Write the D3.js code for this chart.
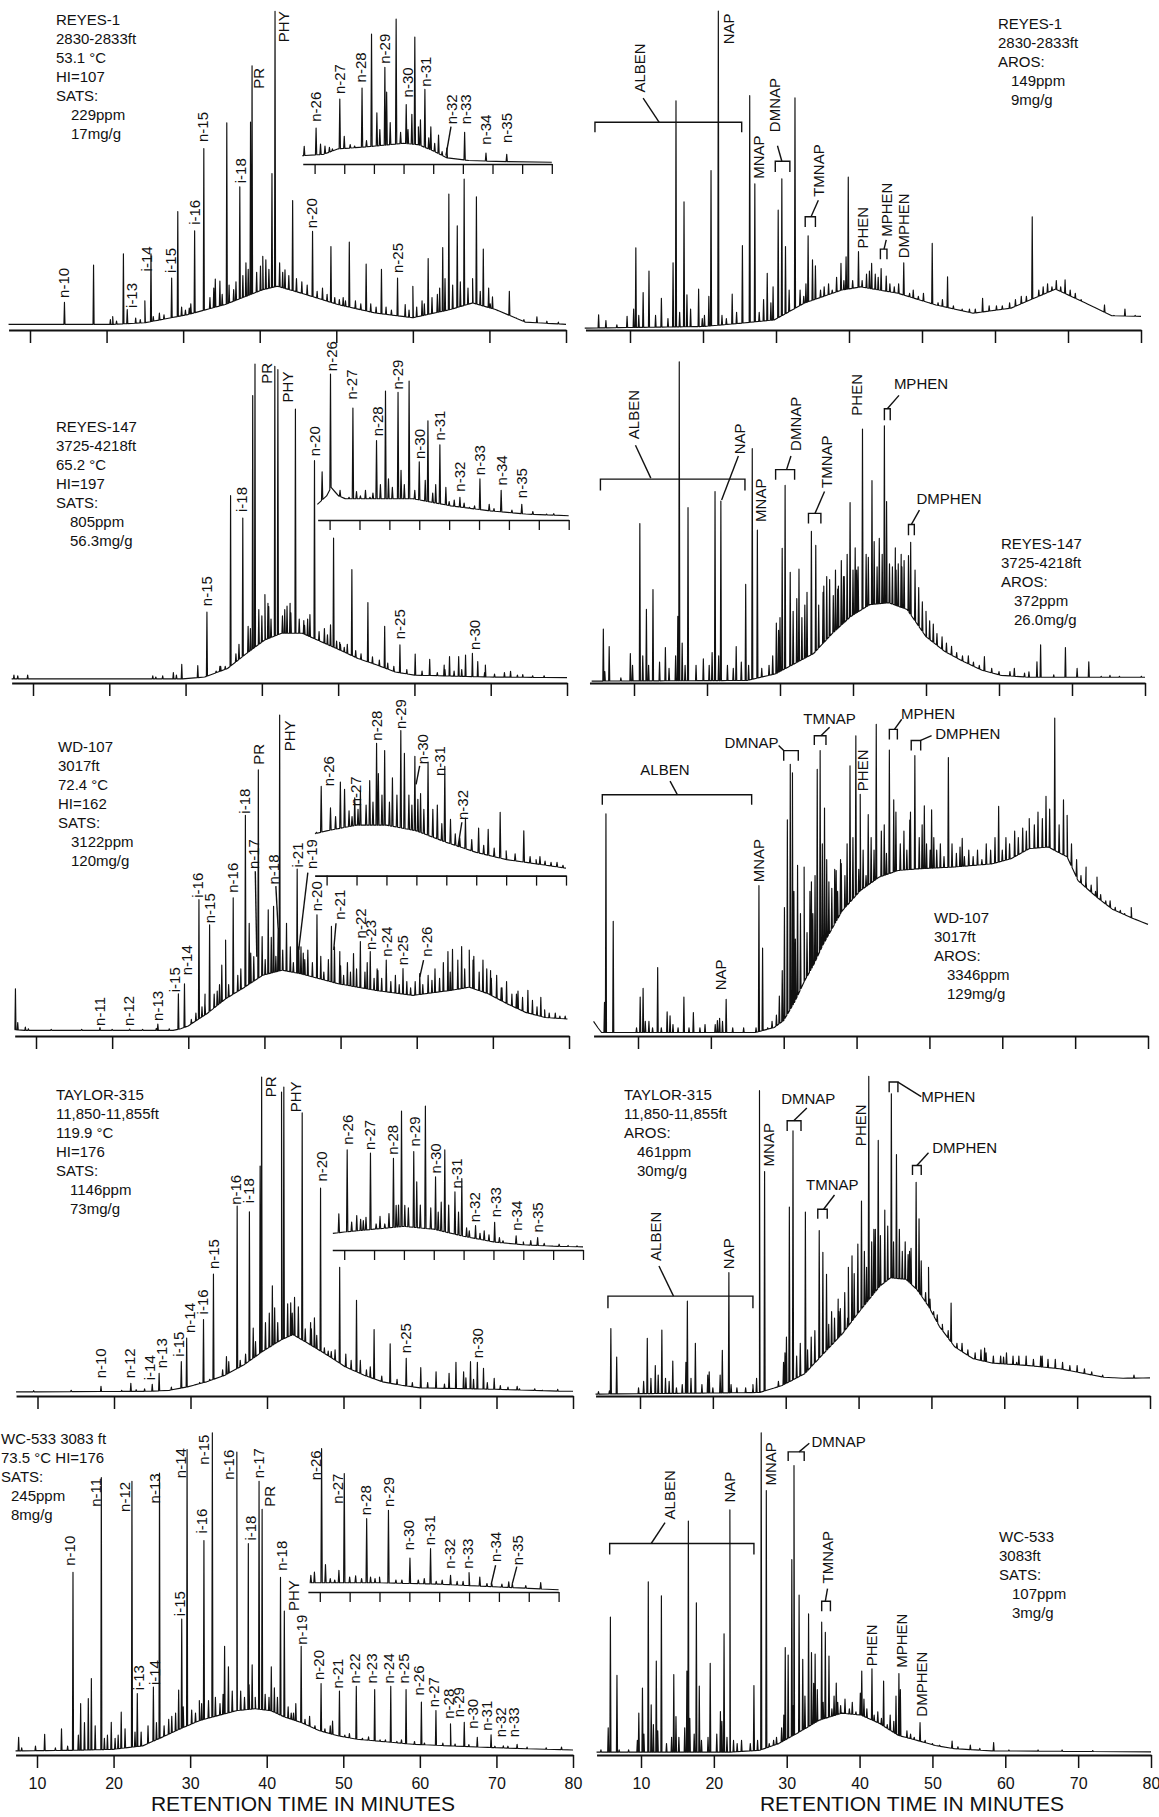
<!DOCTYPE html>
<html>
<head>
<meta charset="utf-8">
<script src="https://cdn.jsdelivr.net/npm/d3@7"></script>
<style>
  body { margin: 0; background: #fff; }
  svg { display: block; font-family: "Liberation Sans", Arial, Helvetica, sans-serif; }
  .trace { fill: none; stroke: #111; stroke-width: 1.15; stroke-linejoin: round; }
  .lbl { font-size: 15px; fill: #111; }
  .info { font-size: 15px; fill: #111; }
  .ann { fill: none; stroke: #111; stroke-width: 1.4; }
  .ax path, .ax line { stroke: #111; }
</style>
</head>
<body>
<svg id="chart" width="1159" height="1817"></svg>
<script>
// ---- shared ticks ----
var minuteTicks = [10, 20, 30, 40, 50, 60, 70, 80];
var insetTicks = [0, 1, 2, 3, 4, 5, 6, 7, 8];
var axisTitle = "RETENTION TIME IN MINUTES";

// ---- REYES-1, saturates ----
var reyes1SatInfo = ["REYES-1", "2830-2833ft", "53.1 °C", "HI=107", "SATS:", " 229ppm", " 17mg/g"];
var reyes1SatHump = [[7.2,0.5],[20.8,0.5],[25,1],[30.6,3.6],[35.5,6.8],[40.4,11.5],[42.3,12.6],[45.3,10.5],[50.2,6.8],[55.1,4.1],[60,2.6],[64.9,5.2],[67.8,7.3],[70.8,5.2],[74.7,1.2],[80,0.5]];
var reyes1SatPeaks = [[14.5,7.5],[18.3,19.3],[20.8,3],[22.2,22.9],[22.7,5.2],[25.0,8.0],[25.8,22.9],[26.9,4.1],[28.5,15.2],[29.3,36.3],[30.8,5.7],[31.5,30.2],[32.7,56.3],[34.2,14.9],[34.8,14.2],[35.7,64.5],[36.6,11.5],[37.4,44.2],[38.2,20],[38.8,64.7],[39.0,82.6],[40.4,22.1],[41.6,48.4],[42.0,99.9],[43.3,17.8],[44.3,39.8],[46.9,30],[49.3,25.2],[50.4,8.4],[51.7,26.6],[53.9,19.6],[55.9,18],[58.0,15.2],[59.0,6.8],[60.0,12.6],[62.0,21.4],[63.9,24.9],[64.7,41.9],[65.8,31.8],[66.7,46.6],[68.3,41],[69.2,24.4],[69.9,12],[70.4,9.2],[72.6,11],[76.2,2.9]];
var reyes1SatMinor = [[20.5,2],[21.3,1.5],[23.8,2.5],[24.4,2],[26.1,3],[27.5,3.5],[29.8,6],[30.3,5],[31.0,7],[33.5,9],[34.0,12],[35.1,10],[36.0,13],[36.9,14],[37.8,16],[38.5,18],[39.6,17],[40.1,19],[40.8,21],[41.2,18],[42.6,20],[43.0,17],[43.8,16],[44.8,15],[45.5,14],[46.2,13],[47.5,11],[48.2,12],[48.8,10],[49.8,9],[50.9,9],[51.2,8],[52.5,8],[53.2,7],[54.5,7],[55.2,6],[56.5,6],[57.2,5],[59.5,5],[60.5,6],[61.2,8],[61.5,7],[62.5,9],[63.2,10],[63.5,12],[64.2,15],[65.2,13],[66.2,14],[67.2,12],[67.8,15],[68.8,11],[70.1,7],[71.2,4],[73.5,2.5],[74.5,2],[77.5,1.5],[79,1.2]];
var reyes1SatLabels = [["n-10",14.4,8.9],["i-13",23.3,5.7],["i-14",25.2,17.3],["i-15",28.4,16.8],["i-16",31.5,32.1],["n-15",32.5,58.4],["i-18",37.5,45.3],["PR",39.8,75.3],["PHY",43.1,90.1],["n-20",46.8,31],["n-25",58.0,16.8]];
var reyes1SatLeaders = [];
var reyes1InsetHump = [[-0.42,1],[0.3,2],[0.8,6],[1.5,7],[2.05,8],[3.0,10],[3.5,9],[3.95,5],[4.46,-0.5],[5.2,-2.5],[6.5,-3.3],[8,-3.7]];
var reyes1InsetPeaks = [[-0.35,7.8],[0.05,21],[0.2,9.5],[0.35,8],[0.5,7],[0.6,6],[0.85,42],[1.0,15],[1.2,9],[1.35,8],[1.6,50],[1.75,12],[1.92,89],[2.1,32],[2.2,20],[2.37,65],[2.43,47],[2.55,25],[2.75,100],[2.9,18],[3.09,38],[3.15,20],[3.28,31],[3.38,87],[3.5,22],[3.57,27],[3.72,49],[3.85,14],[3.92,22],[4.05,10],[4.18,16],[4.3,4],[4.46,6.6],[5.06,18],[5.78,3],[6.48,2]];
var reyes1InsetLabels = [["n-26",0.05,25.6],["n-27",0.85,45.6],["n-28",1.54,54.1],["n-29",2.37,67.6],["n-30",3.13,43.2],["n-31",3.76,51],["n-32",4.62,23.7],["n-33",5.09,23.7],["n-34",5.76,9],["n-35",6.48,10.2]];
var reyes1InsetLeaders = [[4.6,22,4.43,1]];

// ---- REYES-1, aromatics ----
var reyes1AroInfo = ["REYES-1", "2830-2833ft", "AROS:", " 149ppm", " 9mg/g"];
var reyes1AroHump = [[3.8,0],[20,0.5],[25,1.5],[29.8,2.6],[33.9,7.9],[39.0,12],[41.6,13],[46.7,11],[51.9,7.3],[57.0,4.7],[62.2,6.3],[68.3,12.3],[72.4,7.9],[76.0,3.9],[80,3.7]];
var reyes1AroPeaks = [[5.7,4.2],[6.7,2.4],[9.6,3.7],[10.8,25.3],[11.8,11.2],[12.6,18],[14.3,9.4],[15.9,20.6],[16.3,71.7],[17.4,39.8],[17.8,10.5],[19.4,12.3],[20.8,10],[21.1,49.7],[22.1,100],[24.0,10.7],[25.4,26],[26.4,73.3],[27.1,45.5],[28.8,17.3],[30.3,37.2],[30.8,47.1],[31.3,25.7],[32.6,72.6],[34.4,29.1],[35.0,21.5],[35.4,19.6],[38.9,20.4],[39.6,22.5],[39.9,47.6],[41.3,24.1],[43.1,20.4],[44.4,18.8],[45.1,16.4],[47.5,20.6],[51.4,26.7],[53.5,16.2],[58.3,9.4],[65.1,35.1],[69.6,15.2],[75.0,7.3],[77.8,6]];
var reyes1AroMinor = [[8.2,1],[10.5,6],[11.2,4],[13.5,4],[15.2,3],[16.8,5],[18.3,6],[19.9,3],[20.2,4],[22.6,4],[23.2,3],[24.6,5],[27.7,5],[28.3,9],[29.3,8],[29.6,13],[31.8,12],[33.3,12],[33.8,10],[34.1,14],[36.1,12],[36.6,13],[37.2,14],[37.7,12],[38.3,16],[39.3,15],[40.5,15],[41.8,15],[42.4,17],[42.8,18],[43.6,17],[44.0,16],[45.6,14],[46.2,13],[46.8,14],[48.3,11],[48.8,12],[49.5,10],[50.2,11],[51.0,8],[52.2,8],[52.8,9],[54.3,7],[55.5,6],[56.5,6],[57.3,6],[59.2,7],[60.2,7],[61.0,7],[62.0,8],[62.8,9],[63.6,10],[64.3,10],[66.0,12],[66.6,13],[67.2,14],[67.8,13],[68.4,15],[69.0,13],[70.3,12],[71.0,11],[71.8,9],[72.8,7],[73.6,6],[76.3,4],[79.2,4]];
var reyes1AroLabels = [["ALBEN",11.3,74.3,"r"],["NAP",23.5,89.5,"r"],["MNAP",27.6,47.1,"r"],["DMNAP",29.8,61.8,"r"],["TMNAP",35.9,41.4,"r"],["PHEN",41.9,25.1,"r"],["MPHEN",45.2,28.8,"r"],["DMPHEN",47.5,22,"r"]];
var reyes1AroBrackets = [[5.2,25.3,64.9,61.8],[29.9,31.9,52.6,49.2],[34.0,35.4,35.1,31.9],[44.3,45.2,24.9,21.7]];
var reyes1AroLeaders = [[14.0,64.9,11.8,72.5],[30.8,52.6,30.2,57.5],[34.8,35.1,35.8,40.3],[44.8,24.9,45.1,27.8]];

// ---- REYES-147, saturates ----
var reyes147SatInfo = ["REYES-147", "3725-4218ft", "65.2 °C", "HI=197", "SATS:", " 805ppm", " 56.3mg/g"];
var reyes147SatHump = [[7.2,0],[29.6,0],[32.5,0.6],[35.5,3.3],[38,8.1],[40.4,12.4],[42.6,14.5],[45.3,14.5],[47.7,11.9],[50.2,9.2],[52.6,6.5],[55.1,4.4],[57.5,2.2],[60,1.2],[64.9,0.9],[69.8,0.6],[80,0.4]];
var reyes147SatPeaks = [[7.5,1.2],[9.3,1.2],[26.1,0.6],[28.8,1.2],[29.5,4.6],[31.6,4.2],[32.8,21.2],[34.6,4.0],[35.9,58.2],[37.5,51.1],[38.2,16.7],[38.8,90],[39.1,100],[40.4,26.8],[40.9,23],[41.7,99.3],[42.1,98.2],[43.3,23.1],[43.7,24],[44.4,85.7],[45.5,18.5],[46.3,20.4],[46.9,69.3],[49.0,17.2],[49.4,44.7],[50.2,11.6],[51.8,34.7],[53.9,24.2],[56.1,16.7],[58.1,10.8],[60.1,7.9],[62.0,6.2],[63.9,4.4],[64.6,7.1],[65.8,7.1],[66.7,7.6],[67.6,8.1],[68.3,5.5],[69.3,4.4],[72.6,2.4],[74.2,1.4]];
var reyes147SatMinor = [[8.0,1.0],[25.7,1],[27.0,1],[28.4,2],[34.0,2.5],[34.5,4],[35.2,4],[36.6,8],[37.0,11],[38.5,16],[39.6,22],[40.0,20],[40.8,24],[41.2,19],[42.7,20],[43.0,22],[43.8,21],[44.9,19],[45.6,17],[46.0,19],[47.5,15],[48.2,16],[48.6,14],[49.8,12],[50.3,11],[50.8,10],[51.2,11],[52.3,9],[53.0,8],[54.5,7],[55.4,6],[56.5,5],[57.3,4],[59.0,3],[61.0,2.5],[63.0,2],[64.0,3],[65.2,2.5],[66.2,3],[69.2,2],[70.5,1.5],[71.8,2],[73.5,1.2],[75.5,1],[77.0,1]];
var reyes147SatLabels = [["n-15",32.8,23.1],["i-18",37.4,53],["PR",40.6,93.7],["PHY",43.4,87.8],["n-20",46.9,70.7],["n-25",58.1,12.6],["n-30",67.9,9.2]];
var reyes147SatLeaders = [];
var reyes147InsetHump = [[-0.41,8],[-0.1,14],[0.05,20],[0.3,14],[0.53,12],[1.53,12],[2.79,12],[3.42,9.5],[4.05,7],[5.3,3.6],[6.56,1.2],[8,0]];
var reyes147InsetPeaks = [[-0.25,31],[0.03,100],[0.2,15],[0.35,18],[0.5,12],[0.65,13],[0.78,76],[0.9,17],[1.03,14],[1.2,18],[1.35,13],[1.45,16],[1.57,53],[1.7,22],[1.87,88],[1.97,26],[2.1,20],[2.29,87],[2.39,32],[2.5,22],[2.66,95],[2.85,18],[3.0,38],[3.2,25],[3.29,67],[3.45,16],[3.55,22],[3.69,50],[3.89,20],[4.0,10],[4.17,11],[4.36,13],[4.5,9],[4.68,6],[4.85,7],[5.03,26],[5.34,8],[5.5,5],[5.74,18],[6.1,4],[6.43,8],[6.8,3],[7.26,1.2],[7.5,1.5]];
var reyes147InsetLabels = [["n-26",0.05,102],["n-27",0.75,82],["n-28",1.6,56],["n-29",2.29,89],["n-30",3.02,40],["n-31",3.67,53],["n-32",4.36,17],["n-33",5.03,28.6],["n-34",5.74,21.4],["n-35",6.43,12.4]];
var reyes147InsetLeaders = [];

// ---- REYES-147, aromatics ----
var reyes147AroInfo = ["REYES-147", "3725-4218ft", "AROS:", " 372ppm", " 26.0mg/g"];
var reyes147AroHump = [[4.2,0],[25.5,0.2],[29.4,2.3],[32.0,5.5],[34.6,8.7],[37.2,15.1],[39.7,20.4],[42.3,24.1],[44.9,24.7],[47.4,22.6],[50.0,14],[52.6,9.3],[55.2,6.1],[57.7,3.4],[60.3,1.8],[64.2,1.2],[80,1.2]];
var reyes147AroPeaks = [[5.8,16.4],[6.6,10.9],[9.5,8.7],[10.8,49.7],[11.7,22.6],[12.6,28.9],[14.3,10.6],[16.0,20.4],[16.2,100.7],[17.4,54.7],[21.1,59.8],[21.9,56.8],[24.0,10.9],[25.3,30.5],[26.2,73.3],[26.9,47.6],[29.5,18.3],[30.3,41.9],[30.7,61.7],[31.4,34.3],[32.6,35.3],[34.3,47.2],[34.9,42.8],[35.9,28],[36.4,33],[37.9,29],[38.7,33],[39.6,56.3],[40.5,35],[41.3,79.5],[42.1,39],[42.6,63.2],[43.3,36],[44.3,80.5],[44.6,56.6],[45.0,37],[45.9,35],[46.7,36],[47.6,39.6],[47.9,43.8],[49.0,29.5],[50.5,19],[58.0,7.7],[62.1,4],[64.1,2.9],[65.2,6.1],[65.7,11.4],[69.1,10.6],[70.7,4],[72.3,6.1],[75.2,1.8]];
var reyes147AroMinor = [[6.0,3],[8.2,1],[9.8,5],[11.2,8],[12.0,5],[13.5,6],[14.8,4],[15.7,8],[16.6,12],[17.0,5],[18.5,5],[19.5,7],[20.3,5],[20.7,9],[21.6,8],[22.8,5],[23.6,4],[24.7,6],[25.7,5],[27.5,4],[28.5,5],[29.0,8],[29.8,16],[30.0,20],[31.8,22],[32.3,26],[33.0,20],[33.4,24],[33.7,28],[35.3,24],[36.0,30],[36.8,32],[37.3,27],[37.6,35],[38.0,30],[38.4,38],[38.8,33],[39.2,40],[40.0,35],[40.3,42],[40.7,36],[41.8,40],[42.9,44],[43.6,45],[44.0,40],[45.4,36],[45.8,42],[46.2,37],[46.6,40],[47.0,38],[48.5,35],[49.5,25],[50.0,22],[51.0,18],[51.5,15],[52.2,14],[52.8,12],[53.5,11],[54.2,9],[55.0,8],[55.8,8],[56.5,6],[57.3,5],[59.0,4],[60.0,3],[61.5,3],[63.5,2.5],[67.5,2],[74.0,1.5],[76.5,1.5],[79.5,1.5]];
var reyes147AroLabels = [["ALBEN",9.9,76.3,"r"],["NAP",24.5,71.5,"r"],["MNAP",27.4,50.2,"r"],["DMNAP",32.2,72.6,"r"],["TMNAP",36.4,60.9,"r"],["PHEN",40.5,83.7,"r"],["MPHEN",45.6,93.8,"h"],["DMPHEN",48.7,57.7,"h"]];
var reyes147AroBrackets = [[5.4,25.2,63.7,60.1],[29.4,32.0,66.7,63.5],[33.9,35.6,52.9,49.7],[44.3,45.1,85.9,82.3],[47.6,48.4,49.4,46]];
var reyes147AroLeaders = [[12.3,64,10.2,74.4],[24.3,71,22.0,57.1],[30.9,66.7,31.5,71],[34.8,52.9,36.1,59.8],[44.7,85.9,46.3,90.1],[48.0,49.4,49.1,53.9]];

// ---- WD-107, saturates ----
var wd107SatInfo = ["WD-107", "3017ft", "72.4 °C", "HI=162", "SATS:", " 3122ppm", " 120mg/g"];
var wd107SatHump = [[7.2,0.7],[8.5,0.5],[28.0,0.5],[29.0,1.0],[30.0,1.9],[32.4,5.7],[34.9,10.5],[37.4,14.2],[39.8,18],[42.3,19.6],[44.7,18.5],[49.7,15.3],[54.6,13.2],[59.5,11.6],[64.5,13.2],[66.9,14.2],[69.4,12.1],[71.9,8.9],[74.3,6.2],[76.8,4.6],[79.8,4.1]];
var wd107SatPeaks = [[7.3,13.7],[7.6,3],[8.6,1.5],[18.4,1.4],[22.3,0.9],[25.8,1.1],[26.0,2.5],[28.7,12.1],[29.5,15.3],[31.4,42],[32.2,12],[32.8,34],[34.4,21.2],[34.9,29.2],[35.9,42.6],[37.5,68.8],[38.0,34.5],[38.6,23.9],[39.2,83.2],[39.7,30.3],[40.5,38.8],[41.2,39.9],[41.8,32.9],[42.0,100.6],[42.9,34.5],[44.3,51.7],[44.5,27],[45.1,25],[46.9,37.2],[48.8,33.5],[49.2,27],[49.9,25.5],[51.7,24.9],[52.6,28.7],[53.9,25.5],[54.9,19.5],[56.0,22.8],[58.2,20.1],[60.4,18.5],[62.0,16.4],[64.1,25.5],[64.7,26.2],[65.4,22.8],[65.9,27.1],[66.9,26],[67.4,22.8],[68.7,22.8],[69.7,19.5],[71.1,14],[73.1,12],[74.6,13.2],[76.3,11]];
var wd107SatMinor = [[9.0,1],[12,0.8],[16,0.8],[20,0.8],[24,0.8],[27.5,1],[30.4,4],[31.0,6],[31.8,8],[32.2,9],[33.4,12],[33.8,13],[34.1,15],[35.3,15],[36.5,18],[36.9,20],[38.2,25],[40.1,23],[40.9,30],[41.5,24],[42.4,26],[43.4,27],[43.8,22],[44.8,27],[45.3,23],[45.7,26],[46.3,22],[47.4,24],[47.8,19],[48.4,23],[50.0,21],[50.4,18],[50.9,22],[51.3,19],[52.1,20],[53.2,19],[53.5,22],[54.4,17],[54.8,20],[55.4,17],[56.6,16],[57.2,18],[57.7,15],[58.7,16],[59.2,14],[59.8,16],[60.8,15],[61.5,18],[62.4,20],[63.0,17],[63.5,22],[64.4,19],[65.4,22],[66.3,20],[67.5,24],[68.2,19],[69.2,20],[69.8,17],[70.5,18],[71.2,14],[71.8,16],[72.5,12],[73.3,13],[73.9,11],[75.2,10],[75.8,8],[76.8,7],[77.4,6],[78.2,6],[78.8,5],[79.5,5]];
var wd107SatLabels = [["n-11",18.4,1.9],["n-12",22.1,1.9],["n-13",26.0,3.5],["i-15",28.2,12.6],["n-14",29.8,18],["i-16",31.2,42.6],["n-15",32.8,34.5],["n-16",35.8,44.2],["i-18",37.4,69.3],["n-17",38.6,51.7],["PR",39.2,84.8],["n-18",41.2,46.8],["PHY",43.3,89.1],["i-21",44.3,52.2],["n-19",46.2,51.7],["n-20",46.9,38.3],["n-21",49.9,35.6],["n-22",52.6,29.7],["n-23",54.0,26],["n-24",56.1,23.9],["n-25",58.2,21.2],["n-26",61.3,23.9]];
var wd107SatLeaders = [[38.8,51,39.0,23.9],[41.5,46.3,41.8,32.9],[45.7,50.6,44.5,26],[49.4,34.5,49.1,26],[60.9,22.8,60.4,17.4]];
var wd107InsetHump = [[-0.39,28],[0,30],[1,34],[2,34],[3,30],[4,22],[5,15],[6,10],[7,7],[8,4]];
var wd107InsetPeaks = [[-0.34,29],[-0.18,61],[0.13,46],[0.3,40],[0.46,64],[0.6,59],[0.75,44],[0.85,40],[0.94,53],[1.05,45],[1.13,58],[1.32,48],[1.44,65],[1.55,50],[1.67,91],[1.73,70],[1.85,55],[1.94,86],[2.1,50],[2.2,67],[2.35,55],[2.48,100],[2.6,84],[2.75,55],[2.85,48],[2.95,82],[3.05,52],[3.14,56],[3.25,45],[3.39,78],[3.55,45],[3.7,48],[3.85,35],[3.95,75],[4.14,38],[4.3,28],[4.45,25],[4.64,39],[4.85,24],[5.08,32],[5.25,20],[5.4,31],[5.6,18],[5.8,43],[6.0,16],[6.3,14],[6.59,30],[6.8,12],[7.0,10],[7.13,12],[7.3,9],[7.5,8],[7.7,8],[7.9,6]];
var wd107InsetLabels = [["n-26",0.06,61.2],["n-27",0.98,47.1],["n-28",1.67,92.9],["n-29",2.48,101],["n-30",3.2,76.5],["n-31",3.76,68.2],["n-32",4.54,37.6]];
var wd107InsetLeaders = [[3.11,75.3,2.99,62.4],[4.52,36,4.39,18.8]];

// ---- WD-107, aromatics ----
var wd107AroInfo = ["WD-107", "3017ft", "AROS:", " 3346ppm", " 129mg/g"];
var wd107AroHump = [[3.9,4],[4.5,2],[5.0,0.5],[26.1,0.5],[28.7,2.1],[30.0,4.3],[31.5,10.1],[32.8,16.5],[34.1,21.8],[35.4,28.2],[38.0,38.8],[40.5,45.2],[43.1,49.5],[45.7,51.6],[48.3,52.1],[53.4,52.7],[58.6,53.7],[61.2,55.3],[63.7,58.5],[66.3,59],[68.9,55.9],[70.4,48.4],[73.0,43.1],[75.1,39.4],[77.7,36.7],[80,34.6]];
var wd107AroPeaks = [[5.4,10],[5.6,69.5],[6.6,35.6],[10.3,11.7],[10.7,14.4],[12.7,21],[14.4,5.8],[16.3,11.7],[17.6,6.8],[20.9,4.3],[21.6,4],[22.1,11],[26.6,46.8],[27.1,27.1],[30.1,39.9],[30.5,67.6],[30.9,85.1],[31.2,82.4],[31.9,53.2],[32.8,52.7],[33.8,48],[34.6,83.5],[35.0,89.4],[35.6,71.3],[37.2,51.6],[37.9,53.8],[39.1,84.6],[39.9,94.1],[40.5,75.6],[41.6,69.2],[42.7,97.7],[43.4,64],[44.5,89.6],[45.1,73.9],[47.3,67.5],[48.0,87.8],[49.3,72],[50.3,70.7],[52.6,87.2],[54.5,61.7],[59.5,71.8],[61.7,64],[63.7,68],[66.0,75],[67.2,99.7],[68.4,73.9],[68.9,69],[71.5,52.7],[73.0,49.5],[77.7,39.9]];
var wd107AroMinor = [[9.8,2],[11.0,4],[11.5,4],[12.0,2],[13.2,2],[14.0,7],[14.8,3],[15.5,2],[17.0,2],[18.5,2],[19.2,3],[20.6,3],[21.2,5],[23.0,2],[24.5,2],[26.2,2],[27.8,2],[28.4,4],[29.0,6],[29.4,12],[29.8,20],[31.4,45],[31.6,30],[32.3,38],[33.2,32],[33.6,45],[34.0,38],[34.3,50],[35.3,60],[35.9,55],[36.2,48],[36.6,46],[37.0,52],[37.4,45],[37.8,55],[38.4,50],[38.7,60],[39.5,62],[40.3,52],[40.9,58],[41.3,50],[42.0,62],[42.4,58],[43.8,66],[44.1,57],[45.4,70],[46.0,60],[46.5,64],[46.9,58],[47.4,70],[48.6,62],[49.0,66],[49.6,60],[50.1,58],[50.6,62],[51.0,58],[51.5,60],[52.0,56],[53.1,60],[53.7,57],[54.2,59],[54.8,56],[55.4,58],[56.0,56],[56.6,58],[57.2,55],[57.8,60],[58.4,58],[59.0,62],[60.0,58],[60.5,62],[61.0,60],[62.2,62],[62.8,65],[63.3,64],[64.4,66],[64.9,70],[65.5,68],[66.5,71],[67.8,66],[69.5,60],[70.2,55],[70.8,50],[71.5,48],[72.2,47],[72.8,45],[73.5,44],[74.2,42],[74.8,42],[75.5,40],[76.2,39],[76.8,38],[77.5,37],[78.2,36],[79.0,35]];
var wd107AroLabels = [["ALBEN",13.7,83.3,"m"],["NAP",21.4,13.8,"r"],["MNAP",26.5,47.9,"r"],["DMNAP",29.3,92,"e"],["TMNAP",36.3,99.5,"m"],["PHEN",40.8,76.6,"r"],["MPHEN",46.1,101,"h"],["DMPHEN",50.8,94.7,"h"]];
var wd107AroBrackets = [[5.1,25.6,75.5,72.3],[30.0,32.0,89.4,86.2],[34.2,35.8,94.1,91.2],[44.5,45.6,96.1,92.9],[47.5,48.8,92.6,89.4]];
var wd107AroLeaders = [[15.4,75.5,14.4,79.8],[30.0,89.4,29.3,91],[35.1,94.1,36.3,96.8],[45.2,96.1,46.2,99.3],[48.8,92.6,50.3,94.1]];

// ---- TAYLOR-315, saturates ----
var taylor315SatInfo = ["TAYLOR-315", "11,850-11,855ft", "119.9 °C", "HI=176", "SATS:", " 1146ppm", " 73mg/g"];
var taylor315SatHump = [[7.2,0],[24.7,0.2],[27.2,0.5],[29.6,1.6],[32.1,3.2],[34.5,5.3],[37.0,8.6],[39.4,12.8],[41.9,16.6],[43.4,18.2],[45.3,15.5],[47.8,11.8],[50.2,8],[52.7,5.3],[55.1,3.2],[57.6,2.1],[60.0,1.3],[64,1.1],[68.9,0.9],[78.7,0.2],[80,0.2]];
var taylor315SatPeaks = [[14.4,0.5],[18.3,1.8],[22.2,2.7],[22.9,0.7],[25.0,2.4],[25.9,5.9],[28.8,9.6],[29.5,17.1],[31.7,23],[33.0,37.4],[34.7,11.2],[35.0,9.6],[36.1,59],[37.7,57.2],[38.2,20.3],[39.1,71.7],[39.3,100],[40.7,33.7],[41.0,26.7],[41.9,95.2],[42.2,96.8],[43.1,28.3],[43.6,30],[44.6,88.6],[45.8,20],[46.2,23.5],[47.0,64.7],[48.4,12.8],[48.9,13.4],[49.5,39.6],[51.7,29.1],[54.0,19.8],[56.1,15.3],[58.2,10.7],[60.1,7.7],[62.1,6.4],[63.8,5.9],[64.7,9.4],[65.7,6.4],[66.6,9.6],[67.5,9.4],[68.3,7.5],[69.7,4.3],[72.7,1.8],[76,0.5]];
var taylor315SatMinor = [[9.5,0.4],[21,0.5],[24,1],[27.5,1.5],[30.5,2],[31.2,3],[32.5,4],[34.2,7],[36.5,10],[37.2,12],[38.5,16],[39.8,22],[40.3,25],[41.4,22],[42.7,28],[43.3,25],[44.1,27],[45.0,20],[45.7,22],[46.5,18],[47.5,14],[48.0,13],[50.3,12],[51.0,10],[52.2,10],[53.0,7],[53.5,8],[55.0,5],[57.0,4],[59.0,3],[61.0,3],[63.2,2.5],[66.0,4.5],[67.0,4],[68.8,3],[70.5,2],[71.5,1.5],[73.0,1],[75.0,1],[78,0.8]];
var taylor315SatLabels = [["n-10",18.3,4.3],["n-12",22.0,4.3],["i-14",24.7,3.7],["n-13",26.2,7.5],["i-15",28.5,11.2],["n-14",29.9,18.7],["i-16",31.6,24.6],["n-15",33.0,39],["n-16",35.9,59.4],["i-18",37.6,59.9],["PR",40.5,93.6],["PHY",43.8,88.8],["n-20",47.2,66.8],["n-25",58.1,12.3],["n-30",67.5,10.7]];
var taylor315SatLeaders = [];
var taylor315InsetHump = [[-0.38,10],[0,11],[1,13],[2,15],[3,13],[4,8],[5,4],[6,2],[7,1],[8,0.5]];
var taylor315InsetPeaks = [[-0.18,23.8],[0.1,69],[0.25,18],[0.42,22.6],[0.55,20],[0.64,19],[0.73,21.4],[0.88,66.7],[1.07,16.7],[1.2,22],[1.36,16.7],[1.5,24],[1.65,63.1],[1.74,29.8],[1.82,30],[1.92,96.4],[2.03,29.8],[2.15,28],[2.33,67.9],[2.43,46.4],[2.55,30],[2.72,100],[2.9,28],[3.06,50],[3.15,25],[3.25,32.1],[3.37,69],[3.5,30],[3.71,39.3],[3.83,25],[3.94,48.8],[4.1,14],[4.19,11.9],[4.4,15.5],[4.55,10],[4.69,11.9],[4.85,9],[5.04,17.9],[5.2,7],[5.32,4.8],[5.76,8.3],[6.0,4],[6.25,5],[6.48,7.1],[6.7,3],[7.2,2.4],[7.5,1.5],[7.8,1.2]];
var taylor315InsetLabels = [["n-26",0.1,72.6],["n-27",0.86,69],["n-28",1.61,65.5],["n-29",2.36,71.4],["n-30",3.06,52.4],["n-31",3.75,41.7],["n-32",4.38,17.9],["n-33",5.07,21.4],["n-34",5.76,11.9],["n-35",6.48,10.7]];
var taylor315InsetLeaders = [];

// ---- TAYLOR-315, aromatics ----
var taylor315AroInfo = ["TAYLOR-315", "11,850-11,855ft", "AROS:", " 461ppm", " 30mg/g"];
var taylor315AroHump = [[3.9,0],[26.4,0.5],[29.5,2.7],[32.6,6.4],[35.2,12.8],[37.8,19.1],[40.3,26.6],[42.9,34],[44.4,36.7],[46.5,36.2],[48.0,33],[49.6,27.7],[51.1,21.3],[53.2,14.9],[55.7,11.2],[58.3,9.8],[63.4,9],[67.6,8],[71.2,6.4],[73.7,5.3],[76.3,5],[80,5.1]];
var taylor315AroPeaks = [[4.3,0.8],[6.0,20.7],[6.8,11.7],[11.0,17.6],[12.1,9],[13.0,20.2],[14.5,10.4],[16.5,29.3],[17.6,16],[19.5,7],[21.3,13.8],[22.2,38.3],[25.5,2],[26.4,95.7],[27.1,70.2],[29.9,13],[30.5,59],[31.0,83],[32.7,57.4],[34.6,51.6],[35.1,44.7],[35.6,37.8],[37.3,26],[38.5,24],[39.1,43.6],[39.9,47.3],[40.4,60.9],[41.4,100.2],[42.1,52],[42.7,80],[43.6,58],[44.5,94.7],[45.2,75.5],[46.0,44],[47.0,45],[47.9,66.8],[48.3,55.3],[49.6,40],[51.5,21],[52.7,28.7],[57.3,14.5],[59.9,11.7],[61.7,10],[65.2,12],[67.0,11],[77.8,6]];
var taylor315AroMinor = [[5.8,1],[9.8,2],[10.5,4],[11.5,5],[12.5,6],[13.5,5],[14.0,4],[15.0,2],[15.8,3],[16.3,10],[17.0,5],[18.5,3],[19.3,6],[20.0,2],[21.0,6],[22.5,3],[23.3,2],[24.5,2],[25.5,3],[26.0,5],[28.5,2],[29.0,4],[29.7,10],[30.1,18],[31.5,12],[32.0,16],[33.0,14],[33.5,18],[34.0,20],[35.9,22],[36.3,26],[36.7,24],[37.2,30],[37.5,27],[38.1,32],[38.6,40],[39.4,38],[40.8,45],[41.1,40],[41.8,48],[42.3,52],[43.0,50],[43.6,55],[44.0,53],[44.8,48],[45.6,52],[46.0,45],[46.4,48],[46.8,44],[47.2,46],[48.6,42],[49.2,32],[49.8,30],[50.3,26],[50.8,25],[51.5,22],[52.3,20],[53.5,16],[54.2,16],[55.0,14],[56.0,13],[56.8,14],[57.5,13],[58.5,12],[59.5,12],[60.3,13],[61.2,12],[62.0,12],[63.0,12],[64.0,11],[65.0,12],[66.0,11],[67.0,11],[68.0,10],[69.0,9],[70.0,9],[71.0,8],[72.0,7],[73.5,6],[75.0,5],[77.0,5],[79.0,5]];
var taylor315AroLabels = [["ALBEN",12.1,42,"r"],["NAP",22.2,39.4,"r"],["MNAP",27.7,71.8,"r"],["DMNAP",33.1,93.1,"m"],["TMNAP",36.4,66,"m"],["PHEN",40.3,78.2,"r"],["MPHEN",48.6,93.8,"h"],["DMPHEN",50.1,77.7,"h"]];
var taylor315AroBrackets = [[5.6,25.5,30.9,27.1],[30.2,32.1,86.2,83],[34.4,35.7,58.3,55.3],[44.2,45.4,98.4,95.2],[47.4,48.6,72.1,69.1]];
var taylor315AroLeaders = [[14.6,30.9,12.6,40.4],[31.1,86.2,32.9,90.2],[35.2,58.3,36.7,62.8],[45.4,98.4,48.6,93.8],[48.0,72.1,49.6,76.1]];

// ---- WC-533, saturates ----
var wc533SatInfo = ["WC-533 3083 ft", "73.5 °C HI=176", "SATS:", " 245ppm", " 8mg/g"];
var wc533SatHump = [[7.2,0],[15,0.2],[19.9,0.5],[23.8,1.6],[26.3,4.3],[28.7,7],[31.2,9.6],[33.6,11.2],[36.1,12.8],[38.5,13.4],[40.5,12.8],[42.4,10.7],[44.4,9.1],[46.9,6.4],[49.3,4.8],[51.8,3.7],[54.2,3.2],[59.1,2.1],[64,1.6],[68.9,1.1],[73.8,0.7],[80,0.3]];
var wc533SatPeaks = [[7.6,4.3],[11.0,5.3],[13.2,7],[14.7,56.7],[15.7,15],[16.7,16.6],[17.1,23],[18.4,86.8],[19.7,9.1],[21.0,12.3],[22.4,85.6],[23.1,18.2],[25.2,20.3],[26.0,88.2],[28.5,19.3],[28.9,41.9],[29.6,95.7],[31.2,16],[31.8,66.8],[32.9,101],[34.5,33.2],[35.0,26.7],[36.1,94.9],[37.6,65.8],[38.1,27.3],[39.0,85.6],[39.4,76.7],[40.6,26.7],[41.8,55.1],[42.3,44.4],[43.5,12],[44.5,33.2],[47.1,21.4],[48.6,9.5],[49.5,19],[51.7,20.5],[54.1,19.5],[56.2,20.5],[58.2,19.5],[60.2,15.5],[62.1,12.8],[64.0,8.6],[65.8,9.1],[67.5,4.3],[69.3,5.1],[70.9,1.6],[72.7,2.1]];
var wc533SatMinor = [[8.0,1],[9.8,1.5],[12.4,1],[14.0,1.5],[15.4,5],[16.2,9],[17.6,8],[18.8,4],[19.2,5],[20.2,4],[20.6,5],[21.5,7],[22.8,6],[23.6,6],[24.5,8],[25.6,9],[26.6,8],[27.2,10],[27.6,11],[28.1,12],[29.1,14],[30.2,13],[30.7,12],[31.5,15],[32.4,16],[33.3,17],[33.9,15],[34.3,18],[35.5,19],[36.6,19],[37.1,17],[37.7,21],[38.5,17],[39.8,18],[40.3,17],[41.0,20],[41.4,17],[42.8,14],[43.2,12],[43.8,15],[45.0,10],[45.6,11],[46.3,8],[47.6,7],[48.3,8],[50.2,5],[50.8,5.5],[52.5,4],[53.3,4.5],[54.8,3.5],[55.5,3.5],[57.0,3],[57.6,3.5],[59.3,3],[60.6,2.5],[63.0,2.5],[64.6,2.2],[66.4,2],[69.8,1.5],[71.5,1.5],[74.0,1.2],[76.5,1],[78.5,1.2]];
var wc533SatLabels = [["n-10",14.3,58.8],["n-11",17.7,77.5],["n-12",21.4,75.9],["i-13",23.3,19.3],["i-14",25.3,20.9],["n-13",25.3,78.6],["i-15",28.6,42.8],["n-14",28.7,86.6],["i-16",31.5,69],["n-15",31.8,90.9],["n-16",35.0,86.1],["i-18",37.9,66.8],["n-17",39.0,86.6],["PR",40.4,77.5],["n-18",42.0,57.2],["PHY",43.5,44.4],["n-19",44.5,33.7],["n-20",46.8,22.5],["n-21",49.2,19.8],["n-22",51.5,21.4],["n-23",53.7,21.4],["n-24",55.9,21.4],["n-25",57.9,21.4],["n-26",59.8,17.6],["n-27",61.8,13.9],["n-28",63.8,10.2],["n-29",65.0,10.7],["n-30",66.9,7],["n-31",68.7,6.4],["n-32",70.6,4.3],["n-33",72.3,4.3]];
var wc533SatLeaders = [];
var wc533InsetHump = [[-0.34,3],[0,3],[2,3],[4,2],[5,1],[6,0],[7,-1],[8,-2]];
var wc533InsetPeaks = [[-0.3,8.3],[-0.18,10.7],[0.06,98.8],[0.19,16],[0.35,6],[0.5,5],[0.64,11.9],[0.82,81],[1.0,7],[1.2,8],[1.4,6],[1.57,48.8],[1.7,7.1],[1.85,6],[2.0,7],[2.3,54.8],[2.55,5],[2.75,5],[3.02,20.7],[3.3,5],[3.5,6],[3.71,27.4],[3.9,4],[4.1,5],[4.38,8.3],[4.6,4],[4.8,4],[5.0,10.2],[5.36,7.1],[5.6,2.5],[5.76,2.4],[6.1,2],[6.33,3.6],[6.45,2.4],[6.9,1],[7.4,3.1]];
var wc533InsetLabels = [["n-26",-0.15,76.2],["n-27",0.6,59.5],["n-28",1.55,51.2],["n-29",2.3,57.1],["n-30",2.99,26.2],["n-31",3.69,29.8],["n-32",4.35,13.1],["n-33",4.94,13.1],["n-34",5.89,17.9],["n-35",6.62,15.5]];
var wc533InsetLeaders = [[5.89,15.5,5.74,1.7],[6.6,14.5,6.45,2.4]];

// ---- WC-533, aromatics ----
var wc533AroInfo = ["WC-533", "3083ft", "SATS:", " 107ppm", " 3mg/g"];
var wc533AroHump = [[3.9,0.3],[22.2,0.3],[26.3,0.9],[28.9,3],[31.4,6.2],[34.5,10.4],[37.6,12.6],[40.2,12],[42.7,9.4],[45.3,5.6],[47.9,4],[50.4,2.4],[53.0,1.4],[58.1,0.7],[80,0.4]];
var wc533AroPeaks = [[5.8,42.9],[6.7,24.5],[9.7,12.6],[10.2,20.5],[11.0,54],[11.4,15.2],[12.1,29],[12.8,49.6],[14.5,24.8],[14.8,11.5],[16.3,25.9],[16.5,73.2],[17.6,47.4],[18.0,21.1],[19.5,28.3],[20.9,13.1],[21.4,37.6],[22.2,76.7],[25.5,21.3],[26.5,101],[27.2,82.8],[29.8,33.3],[30.2,30.9],[30.7,61],[31.0,90.7],[31.7,49.8],[32.2,29.6],[33.0,43.9],[33.4,31.7],[33.9,31.2],[34.8,41.3],[35.3,38.1],[35.8,30.6],[36.8,22.1],[40.1,18.9],[40.3,25.9],[41.7,26.6],[43.3,22.7],[45.4,25.1],[48.3,9.6],[52.7,3.8],[55.2,2.5],[58.4,3.3]];
var wc533AroMinor = [[4.5,1],[5.5,8],[7.0,1],[8.3,1],[9.5,4],[10.4,6],[11.7,9],[12.3,7],[13.5,3],[14.2,5],[15.2,5],[16.0,8],[16.7,11],[17.3,6],[18.3,4],[19.2,5],[20.4,6],[21.1,10],[21.8,5],[22.7,4],[23.2,3],[23.8,4],[25.0,3],[26.0,4],[27.6,3],[28.2,4],[28.6,5],[29.3,8],[29.6,12],[30.9,15],[32.5,18],[33.7,22],[34.2,20],[35.0,16],[36.2,14],[36.5,18],[37.0,16],[37.4,15],[38.0,17],[38.6,14],[39.0,16],[39.5,13],[40.6,17],[41.0,14],[42.0,12],[42.5,13],[43.0,11],[43.8,9],[44.2,12],[44.7,10],[45.0,18],[45.6,20],[46.5,7],[47.0,6],[47.5,5],[49.0,4],[50.0,3],[51.0,2.5],[53.5,2],[56.5,1.5],[60.5,1],[64.5,1],[67.8,1],[72,0.8]];
var wc533AroLabels = [["ALBEN",13.9,73.7,"r"],["NAP",22.1,79,"r"],["MNAP",27.8,84.4,"r"],["DMNAP",33.4,98.2,"h"],["TMNAP",35.6,53.5,"r"],["PHEN",41.7,27.4,"r"],["MPHEN",45.7,26.9,"r"],["DMPHEN",48.5,11.5,"r"]];
var wc533AroBrackets = [[5.7,25.5,66.1,62.6],[30.2,32.4,95,92.1],[34.8,36.0,47.9,44.7]];
var wc533AroLeaders = [[11.4,66.1,13.3,72.7],[31.7,95,33.1,97.7],[35.3,47.9,35.6,51.9]];

// ---------- layout ----------
var W = 1159, H = 1817;
var rowAxisY = [330, 683, 1036, 1396, 1755];
var leftX = [[30, 566], [33, 567], [36, 569], [37.5, 573], [37, 573]];   // px of 10 and 80 min
var rightX = [[630, 1141], [634, 1145], [638, 1148], [640, 1150], [641, 1151]];
var plotH = 319;
var insetGeom = [
  {axisY: 164, x0: 314.6, x8: 551.8, top: 19, yMin: -5},
  {axisY: 520, x0: 329.6, x8: 568.7, top: 374, yMin: -3},
  {axisY: 875.6, x0: 326.6, x8: 566, top: 730.5, yMin: -1.2},
  {axisY: 1250, x0: 344.2, x8: 583, top: 1106, yMin: -1.7},
  {axisY: 1592, x0: 319.8, x8: 558.6, top: 1447, yMin: -3.6}
];
var leftInfoPos = [[56, 20, 15], [56, 427, 14], [58, 747, 13], [56, 1095, 14], [1, 1439, 10]];
var rightInfoPos = [[998, 24, 13], [1001, 544, 13], [934, 918, 13], [624, 1095, 13], [999, 1537, 13]];

var satPanels = [
  {info: reyes1SatInfo, hump: reyes1SatHump, peaks: reyes1SatPeaks, minor: reyes1SatMinor, labels: reyes1SatLabels, leaders: reyes1SatLeaders,
   inset: {hump: reyes1InsetHump, peaks: reyes1InsetPeaks, labels: reyes1InsetLabels, leaders: reyes1InsetLeaders}},
  {info: reyes147SatInfo, hump: reyes147SatHump, peaks: reyes147SatPeaks, minor: reyes147SatMinor, labels: reyes147SatLabels, leaders: reyes147SatLeaders,
   inset: {hump: reyes147InsetHump, peaks: reyes147InsetPeaks, labels: reyes147InsetLabels, leaders: reyes147InsetLeaders}},
  {info: wd107SatInfo, hump: wd107SatHump, peaks: wd107SatPeaks, minor: wd107SatMinor, labels: wd107SatLabels, leaders: wd107SatLeaders,
   inset: {hump: wd107InsetHump, peaks: wd107InsetPeaks, labels: wd107InsetLabels, leaders: wd107InsetLeaders}},
  {info: taylor315SatInfo, hump: taylor315SatHump, peaks: taylor315SatPeaks, minor: taylor315SatMinor, labels: taylor315SatLabels, leaders: taylor315SatLeaders,
   inset: {hump: taylor315InsetHump, peaks: taylor315InsetPeaks, labels: taylor315InsetLabels, leaders: taylor315InsetLeaders}},
  {info: wc533SatInfo, hump: wc533SatHump, peaks: wc533SatPeaks, minor: wc533SatMinor, labels: wc533SatLabels, leaders: wc533SatLeaders,
   inset: {hump: wc533InsetHump, peaks: wc533InsetPeaks, labels: wc533InsetLabels, leaders: wc533InsetLeaders}}
];
var aroPanels = [
  {info: reyes1AroInfo, hump: reyes1AroHump, peaks: reyes1AroPeaks, minor: reyes1AroMinor, labels: reyes1AroLabels, brackets: reyes1AroBrackets, leaders: reyes1AroLeaders},
  {info: reyes147AroInfo, hump: reyes147AroHump, peaks: reyes147AroPeaks, minor: reyes147AroMinor, labels: reyes147AroLabels, brackets: reyes147AroBrackets, leaders: reyes147AroLeaders},
  {info: wd107AroInfo, hump: wd107AroHump, peaks: wd107AroPeaks, minor: wd107AroMinor, labels: wd107AroLabels, brackets: wd107AroBrackets, leaders: wd107AroLeaders},
  {info: taylor315AroInfo, hump: taylor315AroHump, peaks: taylor315AroPeaks, minor: taylor315AroMinor, labels: taylor315AroLabels, brackets: taylor315AroBrackets, leaders: taylor315AroLeaders},
  {info: wc533AroInfo, hump: wc533AroHump, peaks: wc533AroPeaks, minor: wc533AroMinor, labels: wc533AroLabels, brackets: wc533AroBrackets, leaders: wc533AroLeaders}
];

var svg = d3.select("#chart");
svg.append("rect").attr("width", W).attr("height", H).attr("fill", "#fff");

// baseline hump + thin spikes for every peak
function trace(hump, peaks, xs, ys, w) {
  var base = d3.scaleLinear()
    .domain(hump.map(function(d) { return d[0]; }))
    .range(hump.map(function(d) { return d[1]; }))
    .clamp(true);
  var lo = hump[0][0], hi = hump[hump.length - 1][0];
  var pts = hump.map(function(d) { return [d[0], d[1]]; });
  peaks.forEach(function(p) {
    if (p[0] <= lo || p[0] >= hi) return;
    pts.push([p[0] - w, base(p[0] - w)]);
    pts.push([p[0], Math.max(p[1], base(p[0]))]);
    pts.push([p[0] + w, base(p[0] + w)]);
  });
  pts.sort(function(a, b) { return a[0] - b[0]; });
  return d3.line().x(function(d) { return xs(d[0]); }).y(function(d) { return ys(d[1]); })(pts);
}

function drawLabels(g, labels, xs, ys) {
  labels.forEach(function(l) {
    var mode = l[3] || "r";
    var t = g.append("text").attr("class", "lbl").text(l[0]);
    if (mode === "r") {
      t.attr("transform", "translate(" + xs(l[1]) + "," + ys(l[2]) + ") rotate(-90)")
       .attr("dy", "0.36em");
    } else {
      t.attr("x", xs(l[1])).attr("y", ys(l[2])).attr("dy", "0.36em")
       .attr("text-anchor", mode === "m" ? "middle" : (mode === "e" ? "end" : "start"));
    }
  });
}

function drawLeaders(g, leaders, xs, ys) {
  g.selectAll(null).data(leaders).enter().append("line")
    .attr("class", "ann")
    .attr("x1", function(d) { return xs(d[0]); }).attr("y1", function(d) { return ys(d[1]); })
    .attr("x2", function(d) { return xs(d[2]); }).attr("y2", function(d) { return ys(d[3]); });
}

function drawInfo(lines, pos) {
  var step = 18.9;
  lines.forEach(function(s, i) {
    var indent = s.charAt(0) === " ";
    svg.append("text").attr("class", "info")
      .attr("x", pos[0] + (indent ? pos[2] : 0))
      .attr("y", pos[1] + i * step)
      .attr("dy", "0.36em")
      .text(s.trim());
  });
}

function drawAxis(g, xs, axisY, showLabels) {
  var ax = d3.axisBottom(xs).tickValues(minuteTicks).tickSize(13).tickSizeOuter(0).tickPadding(9.5)
    .tickFormat(showLabels ? d3.format("d") : "");
  var a = g.append("g").attr("class", "ax").attr("transform", "translate(0," + axisY + ")").call(ax);
  a.select(".domain").attr("stroke-width", 2);
  a.selectAll(".tick line").attr("stroke-width", 1.5);
  a.selectAll(".tick text").attr("font-size", 16).attr("fill", "#111")
    .attr("font-family", "\"Liberation Sans\", Arial, sans-serif");
}

function panelScales(row, xr, tStart, yMin) {
  var pxPerMin = (xr[1] - xr[0]) / 70;
  var xs = d3.scaleLinear().domain([tStart, 80]).range([xr[0] + (tStart - 10) * pxPerMin, xr[1]]);
  var ys = d3.scaleLinear().domain([yMin, 100]).range([rowAxisY[row], rowAxisY[row] - plotH]);
  return {x: xs, y: ys};
}

// saturate (left) panels with their n-alkane insets
satPanels.forEach(function(p, row) {
  var s = panelScales(row, leftX[row], 7.2, -1.3);
  var g = svg.append("g");
  g.append("path").attr("class", "trace").attr("d", trace(p.hump, p.peaks.concat(p.minor), s.x, s.y, 0.07));
  drawAxis(g, s.x, rowAxisY[row], row === 4);
  drawLabels(g, p.labels, s.x, s.y);
  drawLeaders(g, p.leaders, s.x, s.y);
  drawInfo(p.info, leftInfoPos[row]);

  var ig = insetGeom[row];
  var uStart = -0.4;
  var ux = d3.scaleLinear().domain([0, 8]).range([ig.x0, ig.x8]);
  var ixs = d3.scaleLinear().domain([uStart, 8]).range([ux(uStart), ig.x8]);
  var iys = d3.scaleLinear().domain([ig.yMin, 100]).range([ig.axisY, ig.top]);
  var gi = svg.append("g");
  gi.append("path").attr("class", "trace").attr("d", trace(p.inset.hump, p.inset.peaks, ixs, iys, 0.022));
  var iax = d3.axisBottom(ixs).tickValues(insetTicks).tickSize(10).tickSizeOuter(0).tickFormat("");
  var ia = gi.append("g").attr("class", "ax").attr("transform", "translate(0," + ig.axisY + ")").call(iax);
  ia.select(".domain").attr("stroke-width", 1.6);
  ia.selectAll(".tick line").attr("stroke-width", 1.3);
  drawLabels(gi, p.inset.labels, ixs, iys);
  drawLeaders(gi, p.inset.leaders, ixs, iys);
});

// aromatic (right) panels with bracketed compound groups
aroPanels.forEach(function(p, row) {
  var s = panelScales(row, rightX[row], 3.9, -0.6);
  var g = svg.append("g");
  g.append("path").attr("class", "trace").attr("d", trace(p.hump, p.peaks.concat(p.minor), s.x, s.y, 0.075));
  drawAxis(g, s.x, rowAxisY[row], row === 4);
  g.selectAll(null).data(p.brackets).enter().append("path")
    .attr("class", "ann")
    .attr("d", function(b) {
      return "M" + s.x(b[0]) + "," + s.y(b[3]) + "V" + s.y(b[2]) + "H" + s.x(b[1]) + "V" + s.y(b[3]);
    });
  drawLeaders(g, p.leaders, s.x, s.y);
  drawLabels(g, p.labels, s.x, s.y);
  drawInfo(p.info, rightInfoPos[row]);
});

// axis titles under the bottom row
[303, 912].forEach(function(cx) {
  svg.append("text").attr("x", cx).attr("y", 1811).attr("text-anchor", "middle")
    .attr("font-size", 21).attr("fill", "#111").text(axisTitle);
});
</script>
</body>
</html>
